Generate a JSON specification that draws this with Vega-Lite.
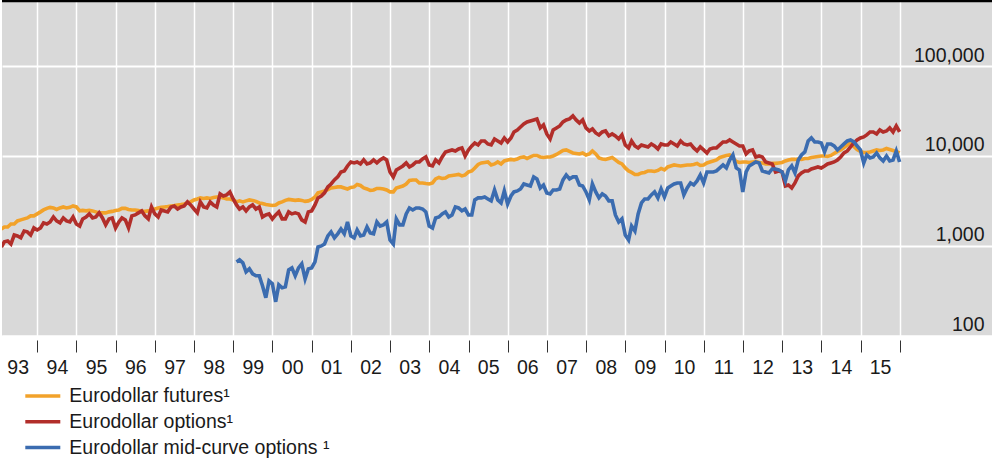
{
"$schema": "https://vega.github.io/schema/vega-lite/v6.json",
"width": 990,
"height": 335.5,
"autosize": {"type": "none"},
"padding": {"left": 2, "top": 0, "right": 0, "bottom": 124.5},
"background": "white",
"config": {"view": {"fill": "#d9d9d9", "stroke": null}, "font": "Liberation Sans"},
"layer": [
{
"data": {"values": [
{"d":"1993-01-31","f":1530,"o":965},{"d":"1993-02-28","f":1610,"o":1100},{"d":"1993-03-31","f":1610,"o":1125},{"d":"1993-04-30","f":1740,"o":1040},{"d":"1993-05-31","f":1740,"o":1310},{"d":"1993-06-30","f":1880,"o":1280},{"d":"1993-07-31","f":1930,"o":1220},{"d":"1993-08-31","f":1980,"o":1450},{"d":"1993-09-30","f":2030,"o":1420},{"d":"1993-10-31","f":2140,"o":1310},{"d":"1993-11-30","f":2140,"o":1570},{"d":"1993-12-31","f":2250,"o":1490},
{"d":"1994-01-31","f":2370,"o":1570},{"d":"1994-02-28","f":2490,"o":1790},{"d":"1994-03-31","f":2590,"o":1740},{"d":"1994-04-30","f":2660,"o":1830},{"d":"1994-05-31","f":2620,"o":2080},{"d":"1994-06-30","f":2520,"o":1880},{"d":"1994-07-31","f":2620,"o":1790},{"d":"1994-08-31","f":2690,"o":2030},{"d":"1994-09-30","f":2620,"o":1880},{"d":"1994-10-31","f":2660,"o":1830},{"d":"1994-11-30","f":2760,"o":2080},{"d":"1994-12-31","f":2690,"o":1740},
{"d":"1995-01-31","f":2430,"o":1650},{"d":"1995-02-28","f":2460,"o":1980},{"d":"1995-03-31","f":2430,"o":2080},{"d":"1995-04-30","f":2460,"o":2250},{"d":"1995-05-31","f":2430,"o":2030},{"d":"1995-06-30","f":2370,"o":2080},{"d":"1995-07-31","f":2310,"o":2310},{"d":"1995-08-31","f":2310,"o":2030},{"d":"1995-09-30","f":2310,"o":1700},{"d":"1995-10-31","f":2370,"o":1980},{"d":"1995-11-30","f":2400,"o":2030},{"d":"1995-12-31","f":2460,"o":1570},
{"d":"1996-01-31","f":2490,"o":1830},{"d":"1996-02-29","f":2590,"o":2030},{"d":"1996-03-31","f":2590,"o":1930},{"d":"1996-04-30","f":2520,"o":1570},{"d":"1996-05-31","f":2490,"o":2140},{"d":"1996-06-30","f":2490,"o":2190},{"d":"1996-07-31","f":2460,"o":2310},{"d":"1996-08-31","f":2400,"o":2430},{"d":"1996-09-30","f":2400,"o":2140},{"d":"1996-10-31","f":2430,"o":1980},{"d":"1996-11-30","f":2490,"o":2690},{"d":"1996-12-31","f":2550,"o":2250},
{"d":"1997-01-31","f":2620,"o":2080},{"d":"1997-02-28","f":2660,"o":2490},{"d":"1997-03-31","f":2690,"o":2430},{"d":"1997-04-30","f":2720,"o":2370},{"d":"1997-05-31","f":2760,"o":2690},{"d":"1997-06-30","f":2790,"o":2760},{"d":"1997-07-31","f":2830,"o":2550},{"d":"1997-08-31","f":2860,"o":2690},{"d":"1997-09-30","f":2900,"o":2760},{"d":"1997-10-31","f":2980,"o":3060},{"d":"1997-11-30","f":3060,"o":2830},{"d":"1997-12-31","f":3220,"o":2550},
{"d":"1998-01-31","f":3300,"o":2310},{"d":"1998-02-28","f":3390,"o":3060},{"d":"1998-03-31","f":3340,"o":2690},{"d":"1998-04-30","f":3390,"o":2620},{"d":"1998-05-31","f":3340,"o":3060},{"d":"1998-06-30","f":3430,"o":2830},{"d":"1998-07-31","f":3470,"o":2690},{"d":"1998-08-31","f":3470,"o":3750},{"d":"1998-09-30","f":3390,"o":3560},{"d":"1998-10-31","f":3300,"o":3660},{"d":"1998-11-30","f":3300,"o":3950},{"d":"1998-12-31","f":3220,"o":3300},
{"d":"1999-01-31","f":3060,"o":2830,"m":658},{"d":"1999-02-28","f":3140,"o":2550,"m":693},{"d":"1999-03-31","f":3060,"o":2690,"m":642},{"d":"1999-04-30","f":3140,"o":2430,"m":510},{"d":"1999-05-31","f":3220,"o":2690,"m":551},{"d":"1999-06-30","f":3180,"o":2830,"m":485},{"d":"1999-07-31","f":3100,"o":2550,"m":461},{"d":"1999-08-31","f":2980,"o":2690,"m":461},{"d":"1999-09-30","f":2940,"o":2080,"m":357},{"d":"1999-10-31","f":2860,"o":2190,"m":263},{"d":"1999-11-30","f":2830,"o":2250,"m":405},{"d":"1999-12-31","f":2790,"o":1980,"m":376},
{"d":"2000-01-31","f":2830,"o":2190,"m":237},{"d":"2000-02-29","f":2980,"o":2370,"m":366},{"d":"2000-03-31","f":3060,"o":1980,"m":339},{"d":"2000-04-30","f":3180,"o":1980,"m":348},{"d":"2000-05-31","f":3260,"o":2370,"m":537},{"d":"2000-06-30","f":3220,"o":2250,"m":565},{"d":"2000-07-31","f":3180,"o":2310,"m":461},{"d":"2000-08-31","f":3220,"o":2250,"m":565},{"d":"2000-09-30","f":3180,"o":1930,"m":626},{"d":"2000-10-31","f":3100,"o":1830,"m":427},{"d":"2000-11-30","f":3140,"o":2370,"m":551},{"d":"2000-12-31","f":3260,"o":2430,"m":565},
{"d":"2001-01-31","f":3470,"o":2830,"m":658},{"d":"2001-02-28","f":3850,"o":3390,"m":965},{"d":"2001-03-31","f":3950,"o":3560,"m":990},{"d":"2001-04-30","f":4050,"o":3850,"m":1040},{"d":"2001-05-31","f":4200,"o":4490,"m":1280},{"d":"2001-06-30","f":4370,"o":4840,"m":1420},{"d":"2001-07-31","f":4430,"o":5370,"m":1220},{"d":"2001-08-31","f":4490,"o":5800,"m":1350},{"d":"2001-09-30","f":4490,"o":6590,"m":1530},{"d":"2001-10-31","f":4370,"o":6760,"m":1350},{"d":"2001-11-30","f":4260,"o":7680,"m":1830},{"d":"2001-12-31","f":4430,"o":8510,"m":1280},
{"d":"2002-01-31","f":4490,"o":8300,"m":1220},{"d":"2002-02-28","f":4780,"o":8510,"m":1490},{"d":"2002-03-31","f":4660,"o":8090,"m":1280},{"d":"2002-04-30","f":4370,"o":8960,"m":1310},{"d":"2002-05-31","f":4260,"o":8090,"m":1610},{"d":"2002-06-30","f":4100,"o":8300,"m":1380},{"d":"2002-07-31","f":4150,"o":8960,"m":1350},{"d":"2002-08-31","f":4320,"o":8300,"m":1830},{"d":"2002-09-30","f":4320,"o":8960,"m":1650},{"d":"2002-10-31","f":4260,"o":9430,"m":1700},{"d":"2002-11-30","f":4150,"o":8960,"m":1830},{"d":"2002-12-31","f":3950,"o":6590,"m":1155},
{"d":"2003-01-31","f":3950,"o":5800,"m":1040},{"d":"2003-02-28","f":4370,"o":6930,"m":1980},{"d":"2003-03-31","f":4490,"o":7300,"m":1700},{"d":"2003-04-30","f":4600,"o":7680,"m":1700},{"d":"2003-05-31","f":4840,"o":8300,"m":2250},{"d":"2003-06-30","f":5300,"o":7490,"m":2620},{"d":"2003-07-31","f":5370,"o":7880,"m":2490},{"d":"2003-08-31","f":5370,"o":8510,"m":2620},{"d":"2003-09-30","f":4970,"o":8510,"m":2620},{"d":"2003-10-31","f":4970,"o":9190,"m":2550},{"d":"2003-11-30","f":4900,"o":9670,"m":2370},{"d":"2003-12-31","f":4840,"o":7880,"m":1650},
{"d":"2004-01-31","f":4970,"o":7680,"m":1570},{"d":"2004-02-29","f":5510,"o":8960,"m":2030},{"d":"2004-03-31","f":5720,"o":8300,"m":2080},{"d":"2004-04-30","f":5580,"o":9670,"m":2250},{"d":"2004-05-31","f":5650,"o":10990,"m":2370},{"d":"2004-06-30","f":5950,"o":11280,"m":2080},{"d":"2004-07-31","f":6020,"o":11570,"m":2190},{"d":"2004-08-31","f":6100,"o":11280,"m":2690},{"d":"2004-09-30","f":6180,"o":11870,"m":2620},{"d":"2004-10-31","f":5950,"o":12180,"m":2430},{"d":"2004-11-30","f":6100,"o":9920,"m":2550},{"d":"2004-12-31","f":6590,"o":11570,"m":2190},
{"d":"2005-01-31","f":6760,"o":12820,"m":2190},{"d":"2005-02-28","f":7300,"o":13840,"m":3220},{"d":"2005-03-31","f":7990,"o":13150,"m":3390},{"d":"2005-04-30","f":8300,"o":14570,"m":3390},{"d":"2005-05-31","f":8400,"o":14570,"m":3470},{"d":"2005-06-30","f":8510,"o":13490,"m":3300},{"d":"2005-07-31","f":7880,"o":13150,"m":3140},{"d":"2005-08-31","f":8090,"o":15330,"m":4150},{"d":"2005-09-30","f":8510,"o":14570,"m":3220},{"d":"2005-10-31","f":8090,"o":13840,"m":2980},{"d":"2005-11-30","f":8730,"o":15730,"m":4050},{"d":"2005-12-31","f":8960,"o":14200,"m":2900},
{"d":"2006-01-31","f":9080,"o":15730,"m":3560},{"d":"2006-02-28","f":8960,"o":18340,"m":3950},{"d":"2006-03-31","f":9190,"o":19310,"m":4050},{"d":"2006-04-30","f":9550,"o":20850,"m":4260},{"d":"2006-05-31","f":9670,"o":22520,"m":4840},{"d":"2006-06-30","f":9310,"o":23700,"m":4720},{"d":"2006-07-31","f":9670,"o":24320,"m":4600},{"d":"2006-08-31","f":10050,"o":24950,"m":5800},{"d":"2006-09-30","f":10050,"o":25600,"m":5510},{"d":"2006-10-31","f":9670,"o":20320,"m":4370},{"d":"2006-11-30","f":9550,"o":21950,"m":4720},{"d":"2006-12-31","f":9670,"o":17430,"m":3850},
{"d":"2007-01-31","f":9670,"o":15330,"m":3750},{"d":"2007-02-28","f":9920,"o":19310,"m":4150},{"d":"2007-03-31","f":10310,"o":20320,"m":4150},{"d":"2007-04-30","f":10850,"o":21390,"m":4260},{"d":"2007-05-31","f":11420,"o":23700,"m":5370},{"d":"2007-06-30","f":11570,"o":24950,"m":6100},{"d":"2007-07-31","f":11130,"o":25600,"m":5510},{"d":"2007-08-31","f":10710,"o":27640,"m":5800},{"d":"2007-09-30","f":10580,"o":24950,"m":5800},{"d":"2007-10-31","f":10440,"o":23100,"m":4720},{"d":"2007-11-30","f":10710,"o":24950,"m":4600},{"d":"2007-12-31","f":10180,"o":20320,"m":3950},
{"d":"2008-01-31","f":10440,"o":18820,"m":3220},{"d":"2008-02-29","f":11280,"o":19810,"m":4840},{"d":"2008-03-31","f":10440,"o":17880,"m":3950},{"d":"2008-04-30","f":9430,"o":16990,"m":3390},{"d":"2008-05-31","f":9190,"o":18340,"m":3750},{"d":"2008-06-30","f":9080,"o":18820,"m":3560},{"d":"2008-07-31","f":9310,"o":16560,"m":3140},{"d":"2008-08-31","f":9550,"o":17430,"m":3140},{"d":"2008-09-30","f":8960,"o":16560,"m":2190},{"d":"2008-10-31","f":8400,"o":15330,"m":1830},{"d":"2008-11-30","f":8090,"o":16990,"m":1980},{"d":"2008-12-31","f":7300,"o":13150,"m":1310},
{"d":"2009-01-31","f":6760,"o":12180,"m":1155},{"d":"2009-02-28","f":6510,"o":14570,"m":1650},{"d":"2009-03-31","f":6180,"o":12820,"m":1450},{"d":"2009-04-30","f":6180,"o":12180,"m":2250},{"d":"2009-05-31","f":6420,"o":13150,"m":2980},{"d":"2009-06-30","f":6510,"o":12820,"m":3300},{"d":"2009-07-31","f":6760,"o":12490,"m":3300},{"d":"2009-08-31","f":6760,"o":13490,"m":3660},{"d":"2009-09-30","f":6670,"o":12820,"m":3950},{"d":"2009-10-31","f":6850,"o":11870,"m":3390},{"d":"2009-11-30","f":7200,"o":13490,"m":4260},{"d":"2009-12-31","f":6930,"o":13150,"m":3470},
{"d":"2010-01-31","f":7490,"o":13150,"m":4370},{"d":"2010-02-28","f":7680,"o":14200,"m":4600},{"d":"2010-03-31","f":7880,"o":13490,"m":4840},{"d":"2010-04-30","f":7780,"o":12820,"m":4970},{"d":"2010-05-31","f":7680,"o":14570,"m":4970},{"d":"2010-06-30","f":7780,"o":13490,"m":3660},{"d":"2010-07-31","f":7880,"o":13150,"m":4370},{"d":"2010-08-31","f":7880,"o":13490,"m":4970},{"d":"2010-09-30","f":7990,"o":12180,"m":4720},{"d":"2010-10-31","f":8200,"o":11280,"m":5230},{"d":"2010-11-30","f":7780,"o":12490,"m":6100},{"d":"2010-12-31","f":7880,"o":11570,"m":4970},
{"d":"2011-01-31","f":8300,"o":10710,"m":6590},{"d":"2011-02-28","f":8510,"o":11870,"m":6590},{"d":"2011-03-31","f":8730,"o":12180,"m":6590},{"d":"2011-04-30","f":8960,"o":12180,"m":6760},{"d":"2011-05-31","f":9550,"o":13150,"m":7300},{"d":"2011-06-30","f":9800,"o":14200,"m":7880},{"d":"2011-07-31","f":10050,"o":14200,"m":7300},{"d":"2011-08-31","f":10180,"o":14940,"m":8960},{"d":"2011-09-30","f":9430,"o":14200,"m":10180},{"d":"2011-10-31","f":8620,"o":13490,"m":7300},{"d":"2011-11-30","f":8400,"o":12820,"m":6930},{"d":"2011-12-31","f":8510,"o":12820,"m":3950},
{"d":"2012-01-31","f":8510,"o":10440,"m":6590},{"d":"2012-02-29","f":8400,"o":11280,"m":7680},{"d":"2012-03-31","f":8510,"o":11570,"m":8090},{"d":"2012-04-30","f":8620,"o":9670,"m":8510},{"d":"2012-05-31","f":8400,"o":9920,"m":8300},{"d":"2012-06-30","f":8300,"o":9670,"m":6760},{"d":"2012-07-31","f":8090,"o":8510,"m":6590},{"d":"2012-08-31","f":8090,"o":8300,"m":6420},{"d":"2012-09-30","f":8200,"o":8090,"m":7110},{"d":"2012-10-31","f":8200,"o":6590,"m":7110},{"d":"2012-11-30","f":8300,"o":6760,"m":6930},{"d":"2012-12-31","f":8400,"o":6590,"m":6590},
{"d":"2013-01-31","f":8730,"o":4600,"m":5230},{"d":"2013-02-28","f":8960,"o":4720,"m":6930},{"d":"2013-03-31","f":9080,"o":4370,"m":7680},{"d":"2013-04-30","f":9080,"o":4970,"m":6420},{"d":"2013-05-31","f":9190,"o":5950,"m":8960},{"d":"2013-06-30","f":9080,"o":6420,"m":10180},{"d":"2013-07-31","f":9310,"o":6760,"m":10990},{"d":"2013-08-31","f":9310,"o":6760,"m":14570},{"d":"2013-09-30","f":9550,"o":7110,"m":15730},{"d":"2013-10-31","f":9670,"o":7300,"m":14200},{"d":"2013-11-30","f":9800,"o":7490,"m":14200},{"d":"2013-12-31","f":9920,"o":7300,"m":13840},
{"d":"2014-01-31","f":9920,"o":7680,"m":10990},{"d":"2014-02-28","f":9800,"o":8090,"m":13490},{"d":"2014-03-31","f":10050,"o":8300,"m":13490},{"d":"2014-04-30","f":10580,"o":8510,"m":12820},{"d":"2014-05-31","f":11130,"o":8960,"m":11570},{"d":"2014-06-30","f":11570,"o":9670,"m":12490},{"d":"2014-07-31","f":12330,"o":10710,"m":13490},{"d":"2014-08-31","f":13150,"o":11280,"m":14570},{"d":"2014-09-30","f":14200,"o":12490,"m":14940},{"d":"2014-10-31","f":12650,"o":13840,"m":14200},{"d":"2014-11-30","f":11720,"o":14940,"m":12820},{"d":"2014-12-31","f":11130,"o":15730,"m":11570},
{"d":"2015-01-31","f":10850,"o":16140,"m":8300},{"d":"2015-02-28","f":10850,"o":16990,"m":10180},{"d":"2015-03-31","f":10990,"o":18340,"m":9430},{"d":"2015-04-30","f":11280,"o":18340,"m":9670},{"d":"2015-05-31","f":11570,"o":17430,"m":10710},{"d":"2015-06-30","f":11420,"o":19310,"m":9430},{"d":"2015-07-31","f":11570,"o":18340,"m":8730},{"d":"2015-08-31","f":12030,"o":18820,"m":9920},{"d":"2015-09-30","f":11720,"o":20320,"m":8730},{"d":"2015-10-31","f":11420,"o":18340,"m":8960},{"d":"2015-11-30","f":11130,"o":21390,"m":11280},{"d":"2015-12-31","f":10710,"o":18340,"m":8510}
]},
"transform": [{"fold": ["f", "o", "m"], "as": ["s", "v"]}, {"filter": "isValid(datum.v)"}],
"mark": {"type": "line", "strokeWidth": 3.6, "clip": true},
"encoding": {
"x": {"field": "d", "type": "temporal",
 "scale": {"type": "utc", "domain": [{"year": 1993, "month": 2, "date": 6, "utc": true}, {"year": 2018, "month": 5, "date": 10, "utc": true}]},
 "axis": {"title": null,
  "values": [{"year":1994,"month":1,"date":1,"utc":true},{"year":1995,"month":1,"date":1,"utc":true},{"year":1996,"month":1,"date":1,"utc":true},{"year":1997,"month":1,"date":1,"utc":true},{"year":1998,"month":1,"date":1,"utc":true},{"year":1999,"month":1,"date":1,"utc":true},{"year":2000,"month":1,"date":1,"utc":true},{"year":2001,"month":1,"date":1,"utc":true},{"year":2002,"month":1,"date":1,"utc":true},{"year":2003,"month":1,"date":1,"utc":true},{"year":2004,"month":1,"date":1,"utc":true},{"year":2005,"month":1,"date":1,"utc":true},{"year":2006,"month":1,"date":1,"utc":true},{"year":2007,"month":1,"date":1,"utc":true},{"year":2008,"month":1,"date":1,"utc":true},{"year":2009,"month":1,"date":1,"utc":true},{"year":2010,"month":1,"date":1,"utc":true},{"year":2011,"month":1,"date":1,"utc":true},{"year":2012,"month":1,"date":1,"utc":true},{"year":2013,"month":1,"date":1,"utc":true},{"year":2014,"month":1,"date":1,"utc":true},{"year":2015,"month":1,"date":1,"utc":true},{"year":2016,"month":1,"date":1,"utc":true}],
  "labelExpr": "slice('' + (utcyear(datum.value) - 1), 2)",
  "labelOffset": -19.6, "labelFontSize": 19.5, "labelColor": "#1a1a1a", "labelPadding": 6, "labelAngle": 0,
  "labelOverlap": false, "labelFlush": false, "labelBound": false,
  "tickSize": 12, "tickColor": "#333333", "tickWidth": 1, "offset": 4.5, "domain": false,
  "grid": true, "gridColor": "#ffffff", "gridWidth": 1.5, "gridOpacity": 1}},
"y": {"field": "v", "type": "quantitative",
 "scale": {"type": "log", "domain": [100, 538000], "nice": false},
 "axis": {"title": null, "orient": "right", "values": [100, 1000, 10000, 100000], "format": ",",
  "ticks": false, "domain": false, "labelAlign": "right", "labelBaseline": "alphabetic",
  "labelPadding": -8, "labelOffset": -4.7, "labelFontSize": 19.5, "labelColor": "#1a1a1a",
  "labelOverlap": false, "labelFlush": false, "labelBound": false,
  "grid": true, "gridColor": "#ffffff", "gridWidth": 1.8, "gridOpacity": 1}},
"color": {"field": "s", "type": "nominal",
 "scale": {"domain": ["f", "o", "m"], "range": ["#f2a22a", "#b22e2a", "#3b6cb0"]},
 "legend": {"title": null, "orient": "none", "legendX": 21.3, "legendY": 385, "direction": "vertical",
  "symbolType": "stroke", "symbolSize": 1225, "symbolStrokeWidth": 3.5,
  "labelFontSize": 19.5, "labelColor": "#1a1a1a", "labelOffset": 7, "labelLimit": 500,
  "clipHeight": 22, "rowPadding": 3.8, "padding": 0,
  "labelExpr": "datum.value == 'f' ? 'Eurodollar futures¹' : datum.value == 'o' ? 'Eurodollar options¹' : 'Eurodollar mid-curve options ¹'"}}
}
},
{
"data": {"values": [{"top": 538000}]},
"mark": {"type": "rule", "color": "#000000", "strokeWidth": 4.6},
"encoding": {"y": {"field": "top", "type": "quantitative", "title": null}}
}
]
}
